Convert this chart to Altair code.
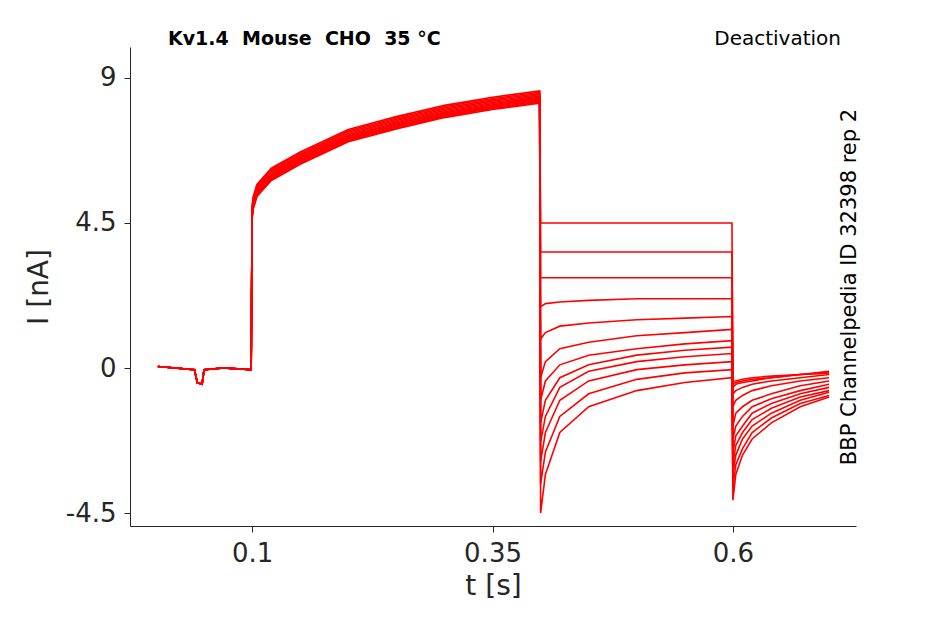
import altair as alt
import pandas as pd

# baseline and activation step (shared shape), per-sweep offsets
t_base = [0.002, 0.02, 0.04, 0.043, 0.048, 0.05, 0.07, 0.099]
i_base = [0.05, 0.0, -0.05, -0.45, -0.5, -0.05, 0.0, -0.05]
t_act = [0.1, 0.101, 0.105, 0.12, 0.15, 0.2, 0.25, 0.3, 0.35, 0.399]
i_act = [4.8, 5.1, 5.5, 6.0, 6.5, 7.2, 7.6, 7.95, 8.2, 8.4]
act_offset = [0.2, 0.16, 0.12, 0.08, 0.04, 0.0, -0.03, -0.06, -0.09, -0.12, -0.15, -0.18]

# deactivation step (0.4 - 0.6 s), one row per sweep
t_deact = [0.4, 0.405, 0.42, 0.45, 0.5, 0.55, 0.599]
i_deact = [
    [4.5, 4.5, 4.5, 4.5, 4.5, 4.5, 4.5],
    [3.6, 3.6, 3.6, 3.6, 3.6, 3.6, 3.6],
    [2.8, 2.8, 2.8, 2.8, 2.8, 2.8, 2.8],
    [1.9, 2.0, 2.05, 2.1, 2.15, 2.15, 2.15],
    [0.9, 1.1, 1.3, 1.4, 1.5, 1.55, 1.6],
    [-0.3, 0.2, 0.6, 0.8, 1.0, 1.1, 1.2],
    [-1.0, -0.4, 0.1, 0.4, 0.6, 0.75, 0.85],
    [-1.7, -1.0, -0.3, 0.1, 0.4, 0.55, 0.65],
    [-2.3, -1.5, -0.6, -0.1, 0.2, 0.35, 0.45],
    [-2.9, -2.0, -1.0, -0.4, -0.05, 0.1, 0.2],
    [-3.6, -2.6, -1.5, -0.8, -0.35, -0.15, -0.05],
    [-4.5, -3.3, -2.0, -1.2, -0.7, -0.45, -0.3],
]

# return step (0.6 - 0.7 s)
t_ret = [0.6, 0.603, 0.61, 0.62, 0.64, 0.67, 0.7]
i_ret = [
    [-0.4, -0.4, -0.35, -0.3, -0.25, -0.2, -0.15],
    [-0.5, -0.45, -0.4, -0.35, -0.3, -0.2, -0.1],
    [-0.6, -0.5, -0.45, -0.4, -0.3, -0.2, -0.15],
    [-0.8, -0.7, -0.6, -0.5, -0.4, -0.3, -0.2],
    [-1.2, -1.0, -0.85, -0.7, -0.55, -0.4, -0.3],
    [-1.8, -1.4, -1.2, -1.0, -0.8, -0.55, -0.4],
    [-2.2, -1.8, -1.5, -1.2, -0.95, -0.7, -0.5],
    [-2.6, -2.1, -1.8, -1.4, -1.1, -0.8, -0.6],
    [-3.0, -2.4, -2.0, -1.6, -1.25, -0.9, -0.7],
    [-3.3, -2.7, -2.2, -1.8, -1.4, -1.0, -0.75],
    [-3.7, -3.0, -2.5, -2.0, -1.55, -1.1, -0.85],
    [-4.1, -3.3, -2.7, -2.2, -1.7, -1.2, -0.9],
]

rows = []
for s in range(len(i_deact)):
    ts = t_base + t_act + t_deact + t_ret
    vs = (i_base + [v + act_offset[s] for v in i_act] + i_deact[s] + i_ret[s])
    for k, (t, v) in enumerate(zip(ts, vs)):
        rows.append({"sweep": s, "order": k, "t": t, "i": v})
df = pd.DataFrame(rows)

lines = alt.Chart(df).mark_line(color="#ff0000", strokeWidth=1.6, clip=True).encode(
    x=alt.X("t:Q", title="t [s]", scale=alt.Scale(domain=[-0.027, 0.728], nice=False),
            axis=alt.Axis(values=[0.1, 0.35, 0.6], labelExpr="toString(datum.value)")),
    y=alt.Y("i:Q", title="I [nA]", scale=alt.Scale(domain=[-4.9, 9.96], nice=False, zero=False),
            axis=alt.Axis(values=[-4.5, 0, 4.5, 9], labelExpr="toString(datum.value)")),
    detail="sweep:N",
    order="order:Q",
)

one = pd.DataFrame({"a": [0]})
title_l = alt.Chart(one).mark_text(text="Kv1.4\u00a0\u00a0Mouse\u00a0\u00a0CHO\u00a0\u00a035\u00a0°C",
                                   fontWeight="bold", fontSize=19, align="left",
                                   font="DejaVu Sans").encode(x=alt.value(38), y=alt.value(-8))
title_r = alt.Chart(one).mark_text(text="Deactivation", fontSize=20, align="right",
                                   font="DejaVu Sans").encode(x=alt.value(711), y=alt.value(-8))
side = alt.Chart(one).mark_text(text="BBP Channelpedia ID 32398 rep 2", fontSize=21, angle=270,
                                font="DejaVu Sans").encode(x=alt.value(720), y=alt.value(240))

chart = alt.layer(lines, title_l, title_r, side).properties(
    width=726, height=479, autosize="none",
    padding={"left": 122, "top": 39, "right": 70, "bottom": 90},
).configure_view(stroke=None).configure_axis(
    grid=False, domainColor="#262626", tickColor="#262626", labelColor="#262626",
    titleColor="#262626", labelFontSize=26, titleFontSize=28, labelFont="DejaVu Sans",
    titleFont="DejaVu Sans", titleFontWeight="normal", tickSize=6, labelPadding=8,
).configure_axisX(titlePadding=6).configure_axisY(titlePadding=12)

chart.save("out.html", embed_options={"renderer": "svg", "actions": False})
